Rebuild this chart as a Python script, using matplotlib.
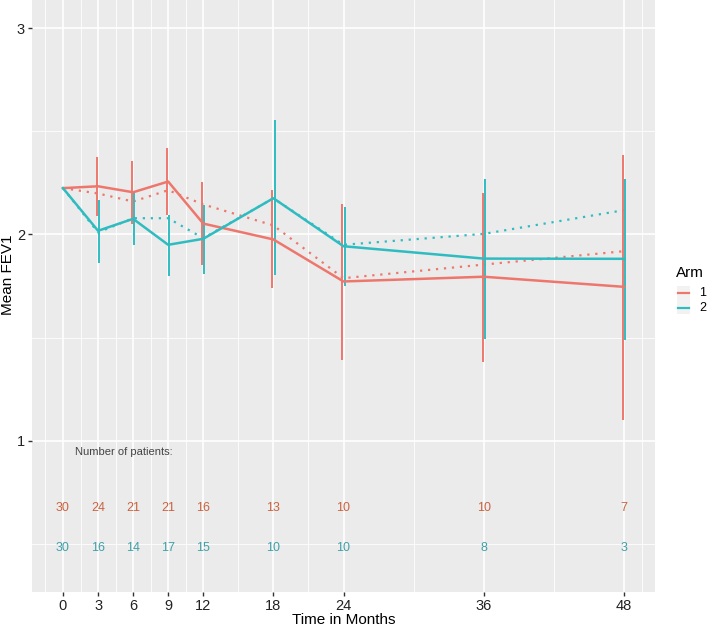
import numpy as np
import matplotlib
matplotlib.use("Agg")
import matplotlib.pyplot as plt
from matplotlib.lines import Line2D
from matplotlib.patches import Rectangle

plt.rcParams["font.family"] = ["Liberation Sans", "DejaVu Sans"]

# data
months = [0, 3, 6, 9, 12, 18, 24, 36, 48]
arm1_mean = [2.225, 2.234, 2.205, 2.257, 2.053, 1.976, 1.772, 1.795, 1.746]
arm2_mean = [2.225, 2.018, 2.076, 1.950, 1.979, 2.176, 1.943, 1.883, 1.882]
arm1_fit = [2.225, 2.199, 2.160, 2.215, 2.146, 2.044, 1.788, 1.854, 1.919]
arm2_fit = [2.225, 2.010, 2.079, 2.079, 1.982, 2.176, 1.950, 2.003, 2.118]
arm1_lo = [np.nan, 2.092, 2.053, 2.097, 1.854, 1.739, 1.390, 1.383, 1.099]
arm1_hi = [np.nan, 2.377, 2.358, 2.420, 2.254, 2.215, 2.148, 2.202, 2.388]
arm2_lo = [np.nan, 1.862, 1.947, 1.798, 1.806, 1.801, 1.752, 1.494, 1.487]
arm2_hi = [np.nan, 2.165, 2.205, 2.097, 2.141, 2.555, 2.134, 2.270, 2.267]
n_arm1 = [30, 24, 21, 21, 16, 13, 10, 10, 7]
n_arm2 = [30, 16, 14, 17, 15, 10, 10, 8, 3]
arms = ["1", "2"]

RED = "#EE776D"
TEAL = "#2FBCC1"
RED_TXT = "#C9633F"
TEAL_TXT = "#3FA0A9"
W, H = 709, 626

fig = plt.figure(figsize=(W / 100, H / 100), dpi=100)
ax = fig.add_axes([32 / W, 34 / H, 623 / W, 592 / H])
ax.set_facecolor("#EBEBEB")
for s in ax.spines.values():
    s.set_visible(False)

ax.set_xlim(-2.65, 50.65)
ax.set_ylim(0.265, 3.138)

# grid (ggplot style)
minor_x = [-1.5, 1.5, 4.5, 7.5, 10.5, 15, 21, 30, 42, 49.5]
for x in minor_x:
    ax.axvline(x, color="white", lw=0.6, zorder=0)
for x in months:
    ax.axvline(x, color="white", lw=1.2, zorder=0)
for y in [0.5, 1.5, 2.5]:
    ax.axhline(y, color="white", lw=0.6, zorder=0)
for y in [1, 2, 3]:
    ax.axhline(y, color="white", lw=1.2, zorder=0)

ax.set_xticks(months)
ax.set_yticks([1, 2, 3])
ax.tick_params(axis="both", length=3, width=1, color="#333333",
               labelsize=10.5, labelcolor="#222222", pad=2)

# error bars (slightly dodged)
dodge = 0.1
for m, lo, hi in zip(months, arm1_lo, arm1_hi):
    if np.isfinite(lo):
        ax.vlines(m - dodge, lo, hi, color=RED, lw=1.4, zorder=3)
for m, lo, hi in zip(months, arm2_lo, arm2_hi):
    if np.isfinite(lo):
        ax.vlines(m + dodge, lo, hi, color=TEAL, lw=1.4, zorder=3)

# observed means and fitted (dotted)
ax.plot(months, arm1_fit, color=RED, lw=1.6, ls=(0, (1, 2.6)), zorder=2)
ax.plot(months, arm2_fit, color=TEAL, lw=1.6, ls=(0, (1, 2.6)), zorder=2)
ax.plot(months, arm1_mean, color=RED, lw=1.8, zorder=4)
ax.plot(months, arm2_mean, color=TEAL, lw=1.8, zorder=4)

# number of patients
ax.text(1.0, 0.942, "Number of patients:", fontsize=8, color="#444444",
        ha="left", va="center")
for m, n in zip(months, n_arm1):
    ax.text(m, 0.675, str(n), fontsize=9, color=RED_TXT, ha="center", va="center")
for m, n in zip(months, n_arm2):
    ax.text(m, 0.48, str(n), fontsize=9, color=TEAL_TXT, ha="center", va="center")

fig.text(344 / W, 1 - 620 / H, "Time in Months", fontsize=11, ha="center", va="center")
fig.text(8 / W, 1 - 275 / H, "Mean FEV1", fontsize=11, rotation=90,
         ha="center", va="center")

# legend
fig.text(676 / W, 1 - 273 / H, "Arm", fontsize=11, ha="left", va="center")
for i, (lab, col) in enumerate(zip(arms, [RED, TEAL])):
    yc = 293 + i * 14.5
    fig.add_artist(Rectangle((677 / W, 1 - (yc + 7) / H), 13 / W, 14 / H,
                             transform=fig.transFigure, facecolor="#F2F2F2",
                             edgecolor="none"))
    fig.add_artist(Line2D([678 / W, 689 / W], [1 - yc / H, 1 - yc / H],
                          transform=fig.transFigure, color=col, lw=1.6))
    fig.text(699 / W, 1 - yc / H, lab, fontsize=9, ha="left", va="center")

fig.savefig("out.png", dpi=100)
